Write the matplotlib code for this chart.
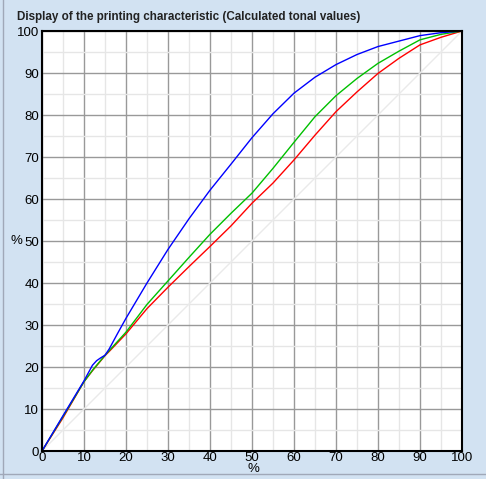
import numpy as np
import matplotlib.pyplot as plt
from matplotlib.lines import Line2D

plt.rcParams['font.family'] = ['Liberation Sans', 'DejaVu Sans']

# tonal values
tone = [0, 5, 10, 12, 13, 14, 15, 16, 18, 20, 25, 30, 35, 40, 45,
        50, 55, 60, 65, 70, 75, 80, 85, 90, 95, 100]
blue = [0, 8.4, 16.7, 20.4, 21.5, 22.2, 22.8, 24.3, 28.0, 31.6, 40.0, 48.0, 55.3, 62.1, 68.3,
        74.6, 80.3, 85.2, 89.0, 92.0, 94.4, 96.3, 97.6, 98.9, 99.6, 100]
green = [0, 8.2, 16.5, 19.2, 20.4, 21.6, 22.8, 23.9, 26.1, 28.3, 34.9, 40.5, 46.1, 51.6, 56.6,
         61.4, 67.3, 73.5, 79.6, 84.6, 88.7, 92.3, 95.2, 97.9, 99.2, 100]
red = [0, 7.9, 16.5, 19.1, 20.3, 21.5, 22.7, 23.7, 25.8, 27.9, 33.9, 39.0, 43.9, 48.7, 53.6,
       59.0, 63.8, 69.3, 75.2, 80.8, 85.5, 89.9, 93.5, 96.7, 98.5, 100]
ticks = list(range(0, 101, 10))

bg = '#D2E2F2'
fig = plt.figure(figsize=(4.86, 4.79), dpi=100, facecolor=bg)
ax = fig.add_axes([42/486, 28/479, 420/486, 420/479])
ax.set_facecolor('white')

ax.set_xticks(ticks)
ax.set_yticks(ticks)
ax.set_xticks(np.arange(5, 100, 10), minor=True)
ax.set_yticks(np.arange(5, 100, 10), minor=True)
ax.grid(which='major', color='#999999', lw=1)
ax.grid(which='minor', color='#E6E6E6', lw=1)
ax.set_axisbelow(True)
ax.tick_params(which='both', length=0, labelsize=9.5, pad=2)
ax.tick_params(axis='x', pad=1)

ax.plot([0, 100], [0, 100], color='#EAEAEA', lw=1)
ax.plot(tone, red, color='#FF0000', lw=1)
ax.plot(tone, green, color='#00C000', lw=1)
ax.plot(tone, blue, color='#0000FF', lw=1)

ax.set_xlim(0, 100)
ax.set_ylim(0, 100)
for s in ax.spines.values():
    s.set_color('black')
    s.set_linewidth(1.5)

# axis labels
fig.text(253/486, 1 - 469/479, '%', fontsize=9.5, ha='center', va='center')
fig.text(10/486, 1 - 241/479, '%', fontsize=9.5, ha='left', va='center')

fig.text(17/486, 1 - 17/479, 'Display of the printing characteristic (Calculated tonal values)',
         fontsize=8.4, fontweight='bold', color='#222222', ha='left', va='center')

# window edges
fig.add_artist(Line2D([2.5/486, 2.5/486], [0, 1], color='#A0A8B8', lw=1))
fig.add_artist(Line2D([0, 1], [5.5/479, 5.5/479], color='#A0A8B8', lw=1))

fig.savefig('out.png', dpi=100, facecolor=bg)
